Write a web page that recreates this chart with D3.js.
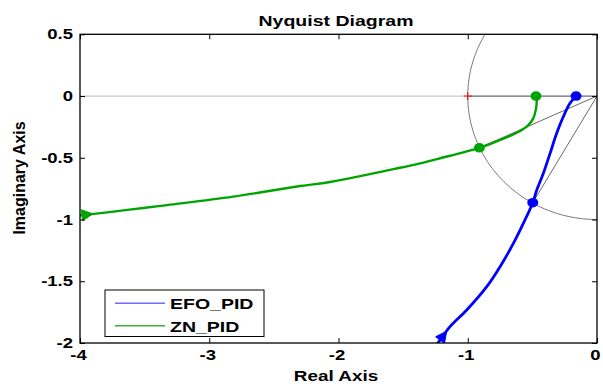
<!DOCTYPE html>
<html>
<head>
<meta charset="utf-8">
<script src="https://cdn.jsdelivr.net/npm/d3@7"></script>
<style>
  html, body { margin: 0; padding: 0; background: #fff; }
  svg { display: block; }
  text { font-family: "Liberation Sans", Arial, sans-serif; font-weight: bold; fill: #000; }
</style>
</head>
<body>
<svg id="chart" width="603" height="387"></svg>
<script>
// Axis ticks
const xTicks = [-4, -3, -2, -1, 0];
const xTickLabels = ["-4", "-3", "-2", "-1", "0"];
const yTicks = [-2, -1.5, -1, -0.5, 0, 0.5];
const yTickLabels = ["-2", "-1.5", "-1", "-0.5", "0", "0.5"];

// EFO_PID open-loop frequency response (real, imaginary)
const efoRe = [-0.162, -0.209, -0.261, -0.312, -0.363, -0.415, -0.466, -0.497, -0.570, -0.647, -0.750, -0.853, -1.008, -1.137, -1.214, -1.238];
const efoIm = [0.000, -0.059, -0.168, -0.302, -0.464, -0.626, -0.761, -0.864, -1.031, -1.193, -1.382, -1.544, -1.733, -1.868, -1.976, -2.010];

// ZN_PID open-loop frequency response (real, imaginary)
const znRe = [-0.472, -0.466, -0.474, -0.493, -0.531, -0.582, -0.660, -0.750, -0.828, -0.910, -1.214, -1.369, -1.524, -2.065, -2.297, -2.815, -3.328, -3.985, -4.050];
const znIm = [0.000, -0.032, -0.113, -0.181, -0.235, -0.275, -0.316, -0.356, -0.389, -0.419, -0.504, -0.545, -0.581, -0.696, -0.729, -0.815, -0.883, -0.965, -0.970];

// Gain-margin and phase-margin points
const efoMarkRe = [-0.162, -0.497];
const efoMarkIm = [0.000, -0.864];
const znMarkRe = [-0.472, -0.910];
const znMarkIm = [0.000, -0.419];

// Direction arrows: index of the arrow base along each curve
const efoArrowAt = 14;
const znArrowAt = 17;

const seriesNames = ["EFO_PID", "ZN_PID"];

const svg = d3.select("#chart");
const pLeft = 80, pRight = 597, pTop = 34.3, pBottom = 343;
const x = d3.scaleLinear().domain([-4, 0]).range([pLeft, pRight]);
const y = d3.scaleLinear().domain([-2, 0.5]).range([pBottom, pTop]);

// stretch text horizontally by the given factor
function widen(sel, f) {
  sel.each(function () {
    const len = this.getComputedTextLength();
    d3.select(this).attr("textLength", len * f).attr("lengthAdjust", "spacingAndGlyphs");
  });
}

svg.append("defs").append("clipPath").attr("id", "plotclip")
  .append("rect").attr("x", pLeft).attr("y", pTop)
  .attr("width", pRight - pLeft).attr("height", pBottom - pTop);

const plot = svg.append("g").attr("clip-path", "url(#plotclip)");

// real axis reference line
plot.append("line")
  .attr("x1", x(-4)).attr("x2", x(-1)).attr("y1", y(0)).attr("y2", y(0))
  .attr("stroke", "#c8c8c8").attr("stroke-width", 1.2);
plot.append("line")
  .attr("x1", x(-1)).attr("x2", x(0)).attr("y1", y(0)).attr("y2", y(0))
  .attr("stroke", "#6a6a6a").attr("stroke-width", 1.2);

// unit circle
const circ = d3.range(0, 361, 2).map(a => [Math.cos(a * Math.PI / 180), Math.sin(a * Math.PI / 180)]);
plot.append("path")
  .attr("d", d3.line().x(d => x(d[0])).y(d => y(d[1]))(circ))
  .attr("fill", "none").attr("stroke", "#7a7a7a").attr("stroke-width", 1);

// rays from origin to phase-margin points
[[efoMarkRe[1], efoMarkIm[1]], [znMarkRe[1], znMarkIm[1]]].forEach(p => {
  plot.append("line")
    .attr("x1", x(0)).attr("y1", y(0)).attr("x2", x(p[0])).attr("y2", y(p[1]))
    .attr("stroke", "#6a6a6a").attr("stroke-width", 1);
});

// critical point -1 + j0
plot.append("path")
  .attr("d", `M${x(-1) - 4},${y(0)}H${x(-1) + 4}M${x(-1)},${y(0) - 4}V${y(0) + 4}`)
  .attr("stroke", "#ff0000").attr("stroke-width", 1);

const line = d3.line().x(d => x(d[0])).y(d => y(d[1])).curve(d3.curveCatmullRom);

function drawSeries(re, im, color, width, arrowAt, mRe, mIm) {
  const pts = re.map((r, i) => [r, im[i]]);
  plot.append("path").attr("d", line(pts))
    .attr("fill", "none").attr("stroke", color).attr("stroke-width", width)
    .attr("stroke-linejoin", "round");
  // arrow head: base at the chosen point, tip toward the preceding point
  const b = pts[arrowAt], a = pts[arrowAt - 1];
  const bx = x(b[0]), by = y(b[1]);
  const ang = Math.atan2(y(a[1]) - by, x(a[0]) - bx);
  const L = 11, Wd = 5.5;
  const tx = bx + L * Math.cos(ang), ty = by + L * Math.sin(ang);
  const nx = -Math.sin(ang) * Wd, ny = Math.cos(ang) * Wd;
  plot.append("path")
    .attr("d", `M${tx},${ty}L${bx + nx},${by + ny}L${bx - nx},${by - ny}Z`)
    .attr("fill", color).attr("stroke", color).attr("stroke-width", 1)
    .attr("stroke-linejoin", "round");
  mRe.forEach((r, i) => {
    plot.append("ellipse").attr("cx", x(r)).attr("cy", y(mIm[i]))
      .attr("rx", 5.5).attr("ry", 4.8).attr("fill", color);
  });
}

drawSeries(znRe, znIm, "#00a400", 2.4, znArrowAt, znMarkRe, znMarkIm);
drawSeries(efoRe, efoIm, "#0000ff", 2.8, efoArrowAt, efoMarkRe, efoMarkIm);

// axes
const gx = svg.append("g").attr("transform", `translate(0,${pBottom})`)
  .call(d3.axisBottom(x).tickValues(xTicks).tickSize(-5).tickSizeOuter(0).tickPadding(7)
    .tickFormat((d, i) => xTickLabels[i]));
const gy = svg.append("g").attr("transform", `translate(${pLeft},0)`)
  .call(d3.axisLeft(y).tickValues(yTicks).tickSize(-5).tickSizeOuter(0).tickPadding(7)
    .tickFormat((d, i) => yTickLabels[i]));
const gt = svg.append("g").attr("transform", `translate(0,${pTop})`)
  .call(d3.axisTop(x).tickValues(xTicks).tickSize(-5).tickSizeOuter(0).tickFormat(""));
const gr = svg.append("g").attr("transform", `translate(${pRight},0)`)
  .call(d3.axisRight(y).tickValues(yTicks).tickSize(-5).tickSizeOuter(0).tickFormat(""));
[gx, gy, gt, gr].forEach(g => {
  g.select(".domain").remove();
  g.selectAll(".tick line").attr("stroke", "#000").attr("stroke-width", 1);
});
[gx, gy].forEach(g => {
  g.attr("font-family", null).attr("font-size", null);
  g.selectAll(".tick text").attr("font-size", 14);
});
gx.selectAll(".tick text").attr("dx", -2);
widen(gx.selectAll(".tick text"), 1.32);
widen(gy.selectAll(".tick text"), 1.32);

// axes box
svg.append("rect").attr("x", pLeft).attr("y", pTop)
  .attr("width", pRight - pLeft).attr("height", pBottom - pTop)
  .attr("fill", "none").attr("stroke", "#000").attr("stroke-width", 1.3);

// legend
const lg = svg.append("g");
lg.append("rect").attr("x", 105).attr("y", 290).attr("width", 159).attr("height", 46.5)
  .attr("fill", "#fff").attr("stroke", "#000").attr("stroke-width", 1);
const legendColors = ["#6b6bff", "#3cb43c"];
seriesNames.forEach((name, i) => {
  const cy = 303.3 + i * 22.4;
  lg.append("line").attr("x1", 115).attr("x2", 165).attr("y1", cy).attr("y2", cy)
    .attr("stroke", legendColors[i]).attr("stroke-width", 1.5);
  const t = lg.append("text").attr("x", 170).attr("y", cy + 5.8)
    .attr("font-size", 15).text(name);
  widen(t, 1.3);
});

// titles
const title = svg.append("text").attr("x", 336).attr("y", 26).attr("text-anchor", "middle")
  .attr("font-size", 15).text("Nyquist Diagram");
widen(title, 1.3);
const xl = svg.append("text").attr("x", 336).attr("y", 381).attr("text-anchor", "middle")
  .attr("font-size", 15).text("Real Axis");
widen(xl, 1.26);
svg.append("text").attr("transform", "translate(25,178) rotate(-90)")
  .attr("text-anchor", "middle").attr("font-size", 16).text("Imaginary Axis");
</script>
</body>
</html>
